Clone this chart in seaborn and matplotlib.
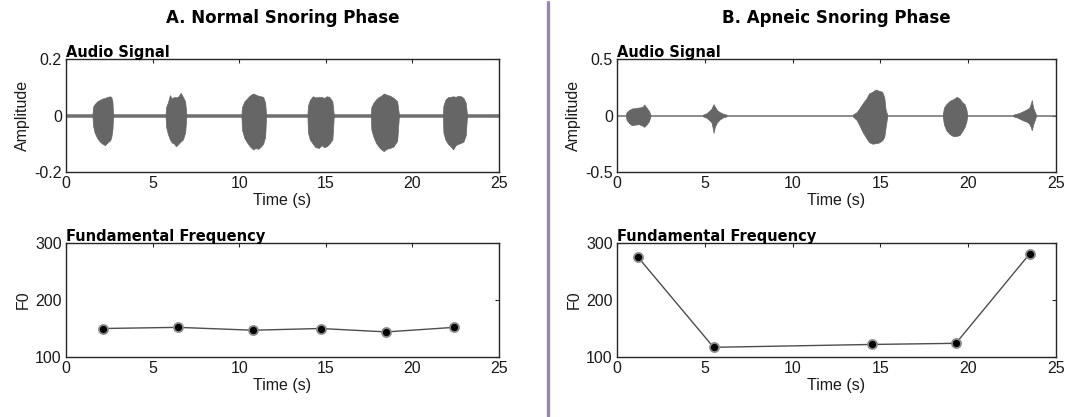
import numpy as np
import pandas as pd
import seaborn as sns
import matplotlib.pyplot as plt
from matplotlib.ticker import FuncFormatter

# --- F0 tracks (Hz)
normal_f0_time = [2.15, 6.45, 10.8, 14.7, 18.5, 22.4]
normal_f0 = [150, 152, 147, 150, 144, 152]
apneic_f0_time = [1.2, 5.5, 14.5, 19.3, 23.5]
apneic_f0 = [275, 117, 122, 124, 281]

# --- audio envelopes: one list per snore burst (time s, upper amp, lower amp)
normal_burst_t = [
    [1.53, 1.56, 1.65, 1.8, 1.95, 2.1, 2.25, 2.4, 2.55, 2.62, 2.68, 2.72],
    [5.75, 5.78, 5.88, 6.0, 6.1, 6.25, 6.35, 6.5, 6.62, 6.75, 6.88, 6.95],
    [10.13, 10.16, 10.3, 10.45, 10.6, 10.8, 10.95, 11.1, 11.25, 11.38, 11.5, 11.55],
    [13.94, 13.97, 14.08, 14.25, 14.4, 14.6, 14.75, 14.9, 15.05, 15.2, 15.38, 15.46],
    [17.6, 17.63, 17.75, 17.9, 18.05, 18.2, 18.35, 18.5, 18.7, 18.9, 19.12, 19.22],
    [21.76, 21.79, 21.9, 22.05, 22.2, 22.35, 22.5, 22.65, 22.8, 22.95, 23.08, 23.15],
]
normal_burst_up = [
    [0.004, 0.03, 0.04, 0.05, 0.055, 0.06, 0.062, 0.066, 0.068, 0.064, 0.05, 0.004],
    [0.004, 0.03, 0.045, 0.072, 0.06, 0.066, 0.064, 0.068, 0.08, 0.066, 0.05, 0.004],
    [0.004, 0.03, 0.05, 0.06, 0.07, 0.078, 0.074, 0.07, 0.068, 0.066, 0.045, 0.004],
    [0.004, 0.035, 0.055, 0.068, 0.064, 0.065, 0.066, 0.062, 0.068, 0.066, 0.05, 0.004],
    [0.004, 0.03, 0.045, 0.057, 0.065, 0.07, 0.078, 0.074, 0.07, 0.063, 0.05, 0.004],
    [0.004, 0.035, 0.055, 0.065, 0.066, 0.068, 0.066, 0.07, 0.068, 0.062, 0.045, 0.004],
]
normal_burst_lo = [
    [-0.004, -0.035, -0.06, -0.08, -0.092, -0.1, -0.105, -0.095, -0.088, -0.075, -0.05, -0.004],
    [-0.004, -0.04, -0.065, -0.085, -0.095, -0.1, -0.109, -0.1, -0.092, -0.085, -0.06, -0.004],
    [-0.004, -0.05, -0.08, -0.095, -0.108, -0.12, -0.115, -0.118, -0.11, -0.1, -0.075, -0.004],
    [-0.004, -0.06, -0.085, -0.1, -0.112, -0.115, -0.105, -0.112, -0.109, -0.1, -0.085, -0.004],
    [-0.004, -0.05, -0.075, -0.097, -0.11, -0.12, -0.126, -0.118, -0.115, -0.11, -0.09, -0.004],
    [-0.004, -0.06, -0.085, -0.1, -0.109, -0.12, -0.105, -0.1, -0.097, -0.092, -0.07, -0.004],
]
apneic_burst_t = [
    [0.5, 0.55, 0.7, 0.85, 1.05, 1.25, 1.45, 1.55, 1.68, 1.82, 1.9],
    [4.9, 5.1, 5.25, 5.38, 5.45, 5.5, 5.57, 5.7, 5.85, 6.05, 6.24],
    [13.43, 13.65, 13.8, 14.0, 14.2, 14.35, 14.55, 14.72, 14.9, 15.1, 15.22, 15.3, 15.39],
    [18.55, 18.62, 18.75, 18.95, 19.15, 19.35, 19.5, 19.65, 19.8, 19.9, 19.94],
    [22.57, 22.75, 22.95, 23.15, 23.35, 23.48, 23.56, 23.62, 23.7, 23.8, 23.86],
]
apneic_burst_up = [
    [0.008, 0.03, 0.05, 0.062, 0.066, 0.071, 0.075, 0.097, 0.07, 0.04, 0.008],
    [0.008, 0.02, 0.04, 0.06, 0.085, 0.1, 0.08, 0.047, 0.03, 0.015, 0.008],
    [0.008, 0.03, 0.062, 0.11, 0.15, 0.195, 0.21, 0.23, 0.22, 0.21, 0.16, 0.047, 0.008],
    [0.008, 0.07, 0.1, 0.13, 0.145, 0.165, 0.15, 0.12, 0.1, 0.05, 0.008],
    [0.008, 0.015, 0.025, 0.04, 0.055, 0.07, 0.1, 0.136, 0.07, 0.03, 0.008],
]
apneic_burst_lo = [
    [-0.008, -0.04, -0.07, -0.086, -0.08, -0.077, -0.09, -0.1, -0.08, -0.05, -0.008],
    [-0.008, -0.02, -0.04, -0.06, -0.11, -0.153, -0.1, -0.06, -0.035, -0.015, -0.008],
    [-0.008, -0.04, -0.086, -0.15, -0.2, -0.235, -0.25, -0.245, -0.24, -0.22, -0.19, -0.1, -0.008],
    [-0.008, -0.08, -0.13, -0.165, -0.183, -0.18, -0.174, -0.14, -0.1, -0.05, -0.008],
    [-0.008, -0.015, -0.03, -0.045, -0.056, -0.075, -0.1, -0.13, -0.08, -0.035, -0.008],
]
normal_noise = 0.004
apneic_noise = 0.008

sns.set_theme(style="white")
plt.rcParams['font.family'] = ['Liberation Sans', 'DejaVu Sans']
plt.rcParams['axes.unicode_minus'] = False
plt.rcParams['xtick.direction'] = 'in'
plt.rcParams['ytick.direction'] = 'in'

WAVE = '#666666'
INK = '#262626'
TXT = '#1a1a1a'

fig = plt.figure(figsize=(10.84, 4.17), dpi=100)

col_x = [66 / 1084, 617 / 1084]
col_w = [433 / 1084, 439 / 1084]
row_top = (1 - 172 / 417, 113 / 417)
row_bot = (1 - 357 / 417, 114 / 417)

fmt = FuncFormatter(lambda v, p: f'{v:g}')


def style_axes(ax, ylim, yticks, title, ylabel):
    ax.set_xlim(0, 25)
    ax.set_ylim(*ylim)
    ax.set_xticks([0, 5, 10, 15, 20, 25])
    ax.set_yticks(yticks)
    ax.yaxis.set_major_formatter(fmt)
    ax.tick_params(axis='both', which='both', top=True, right=True, labelsize=11.5,
                   length=3, width=0.8, color=INK, labelcolor=TXT, pad=3)
    for s in ax.spines.values():
        s.set_color(INK)
        s.set_linewidth(1.0)
    ax.set_xlabel('Time (s)', fontsize=11.5, labelpad=1, color=TXT)
    ax.set_ylabel(ylabel, fontsize=11.5, labelpad=3, color=TXT)
    ax.set_title(title, loc='left', fontsize=10.5, fontweight='bold', family='DejaVu Sans',
                 pad=1.5, color='black')


def draw_audio(ax, noise, bt, bu, bl):
    ax.fill_between([0, 25], [noise, noise], [-noise, -noise], color='#707070', lw=0.4)
    for t, u, l in zip(bt, bu, bl):
        ax.fill_between(t, u, l, color=WAVE, lw=0.5, edgecolor=WAVE)


def draw_f0(ax, t, f0):
    df = pd.DataFrame({'time': t, 'f0': f0})
    sns.lineplot(data=df, x='time', y='f0', ax=ax, color='#4d4d4d', lw=1.0,
                 marker='o', markersize=6.5, markerfacecolor='black',
                 markeredgecolor='#8a8a8a', markeredgewidth=1.3)


panels = [
    ('A. Normal Snoring Phase', normal_noise, normal_burst_t, normal_burst_up, normal_burst_lo,
     (-0.2, 0.2), [-0.2, 0, 0.2], normal_f0_time, normal_f0),
    ('B. Apneic Snoring Phase', apneic_noise, apneic_burst_t, apneic_burst_up, apneic_burst_lo,
     (-0.5, 0.5), [-0.5, 0, 0.5], apneic_f0_time, apneic_f0),
]

for i, (head, noise, bt, bu, bl, ylim, yticks, ft, f0) in enumerate(panels):
    ax_a = fig.add_axes([col_x[i], row_top[0], col_w[i], row_top[1]])
    draw_audio(ax_a, noise, bt, bu, bl)
    style_axes(ax_a, ylim, yticks, 'Audio Signal', 'Amplitude')

    ax_f = fig.add_axes([col_x[i], row_bot[0], col_w[i], row_bot[1]])
    draw_f0(ax_f, ft, f0)
    style_axes(ax_f, (100, 300), [100, 200, 300], 'Fundamental Frequency', 'F0')

    cx = col_x[i] + col_w[i] / 2
    fig.text(cx, 1 - 18 / 417, head, ha='center', va='center', fontsize=12,
             fontweight='bold', family='DejaVu Sans', color='black')

# divider between the two phases
fig.add_artist(plt.Line2D([547.5 / 1084, 547.5 / 1084], [0.002, 0.995], transform=fig.transFigure,
                          color='#9887a8', lw=2.4))

fig.savefig('out.png', dpi=100)
